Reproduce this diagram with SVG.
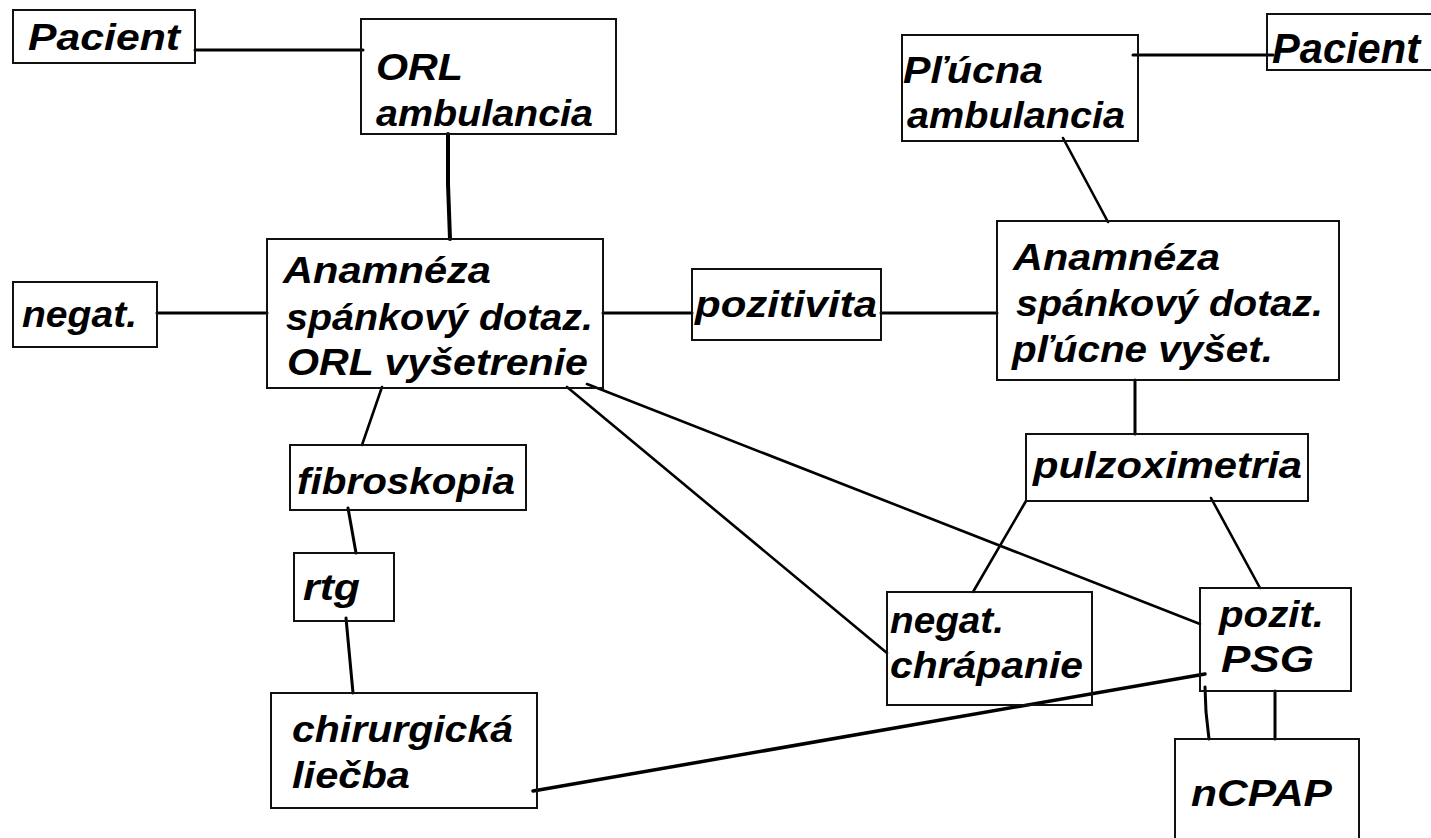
<svg xmlns="http://www.w3.org/2000/svg" width="1431" height="838" viewBox="0 0 1431 838">
<style>
.box{fill:none;stroke:#111;stroke-width:2}
.t{font-family:"Liberation Sans",Arial,sans-serif;font-weight:bold;font-style:italic;font-size:36px;fill:#000}
.c{stroke:#000;stroke-width:3;fill:none;stroke-linecap:round}
.d{stroke:#000;stroke-width:2.6;fill:none;stroke-linecap:round}
</style>
<rect width="1431" height="838" fill="#fff"/>
<g id="connectors">
<line class="c" x1="195" y1="50" x2="363" y2="50"/>
<polyline class="c" style="stroke-width:4" points="448,134 448,184 450,239"/>
<line class="c" x1="1133" y1="55" x2="1273" y2="55"/>
<line class="d" x1="1063" y1="138" x2="1108" y2="222"/>
<line class="c" x1="157" y1="313" x2="267" y2="313"/>
<line class="c" x1="603" y1="313" x2="692" y2="313"/>
<line class="c" x1="881" y1="313" x2="997" y2="313"/>
<line class="c" x1="1135" y1="380" x2="1135" y2="434"/>
<line class="d" x1="1026" y1="501" x2="973" y2="592"/>
<line class="d" x1="1211" y1="498" x2="1260" y2="588"/>
<polyline class="c" points="1205,687 1206,712 1209,739"/>
<line class="c" x1="1275" y1="691" x2="1275" y2="739"/>
<line class="d" x1="382" y1="387" x2="362" y2="445"/>
<line class="c" x1="348" y1="508" x2="356" y2="553"/>
<line class="c" x1="346" y1="618" x2="353" y2="693"/>
<line class="c" style="stroke-width:3.5" x1="533" y1="791" x2="1205" y2="674"/>
<line class="d" x1="567" y1="387" x2="887" y2="653"/>
<line class="d" x1="587" y1="384" x2="1200" y2="624"/>
</g>
<g id="pacient-left">
<rect class="box" x="13" y="10" width="182" height="53"/>
<text class="t" x="28" y="50" textLength="152" lengthAdjust="spacingAndGlyphs">Pacient</text>
</g>
<g id="orl-ambulancia">
<rect class="box" x="361" y="19" width="255" height="115"/>
<text class="t" x="376" y="80" textLength="87" lengthAdjust="spacingAndGlyphs">ORL</text>
<text class="t" x="376" y="126" textLength="217" lengthAdjust="spacingAndGlyphs">ambulancia</text>
</g>
<g id="plucna-ambulancia">
<rect class="box" x="902" y="35" width="236" height="106"/>
<text class="t" x="903" y="83" textLength="140" lengthAdjust="spacingAndGlyphs">Pľúcna</text>
<text class="t" x="907" y="128" textLength="218" lengthAdjust="spacingAndGlyphs">ambulancia</text>
</g>
<g id="pacient-right">
<rect class="box" x="1267" y="14" width="175" height="56"/>
<text class="t" style="font-size:42px" x="1272" y="63" textLength="148" lengthAdjust="spacingAndGlyphs">Pacient</text>
</g>
<g id="negat-left">
<rect class="box" x="13" y="282" width="144" height="65"/>
<text class="t" x="22" y="327" textLength="115" lengthAdjust="spacingAndGlyphs">negat.</text>
</g>
<g id="anamneza-orl">
<rect class="box" x="267" y="239" width="336" height="149"/>
<text class="t" x="283" y="283" textLength="208" lengthAdjust="spacingAndGlyphs">Anamnéza</text>
<text class="t" x="286" y="330" textLength="307" lengthAdjust="spacingAndGlyphs">spánkový dotaz.</text>
<text class="t" x="287" y="375" textLength="301" lengthAdjust="spacingAndGlyphs">ORL vyšetrenie</text>
</g>
<g id="pozitivita">
<rect class="box" x="692" y="269" width="189" height="71"/>
<text class="t" x="695" y="317" textLength="182" lengthAdjust="spacingAndGlyphs">pozitivita</text>
</g>
<g id="anamneza-pluc">
<rect class="box" x="997" y="221" width="342" height="159"/>
<text class="t" x="1013" y="270" textLength="207" lengthAdjust="spacingAndGlyphs">Anamnéza</text>
<text class="t" x="1016" y="316" textLength="307" lengthAdjust="spacingAndGlyphs">spánkový dotaz.</text>
<text class="t" x="1012" y="362" textLength="261" lengthAdjust="spacingAndGlyphs">pľúcne vyšet.</text>
</g>
<g id="pulzoximetria">
<rect class="box" x="1026" y="434" width="282" height="67"/>
<text class="t" x="1033" y="478" textLength="269" lengthAdjust="spacingAndGlyphs">pulzoximetria</text>
</g>
<g id="fibroskopia">
<rect class="box" x="290" y="445" width="236" height="65"/>
<text class="t" x="297" y="494" textLength="218" lengthAdjust="spacingAndGlyphs">fibroskopia</text>
</g>
<g id="rtg">
<rect class="box" x="294" y="553" width="100" height="68"/>
<text class="t" x="303" y="600" textLength="57" lengthAdjust="spacingAndGlyphs">rtg</text>
</g>
<g id="chirurgicka-liecba">
<rect class="box" x="271" y="693" width="266" height="115"/>
<text class="t" x="292" y="742" textLength="221" lengthAdjust="spacingAndGlyphs">chirurgická</text>
<text class="t" x="292" y="788" textLength="118" lengthAdjust="spacingAndGlyphs">liečba</text>
</g>
<g id="negat-chrapanie">
<rect class="box" x="887" y="592" width="205" height="113"/>
<text class="t" x="890" y="633" textLength="114" lengthAdjust="spacingAndGlyphs">negat.</text>
<text class="t" x="890" y="678" textLength="193" lengthAdjust="spacingAndGlyphs">chrápanie</text>
</g>
<g id="pozit-psg">
<rect class="box" x="1200" y="588" width="151" height="103"/>
<text class="t" x="1219" y="627" textLength="105" lengthAdjust="spacingAndGlyphs">pozit.</text>
<text class="t" x="1221" y="672" textLength="93" lengthAdjust="spacingAndGlyphs">PSG</text>
</g>
<g id="ncpap">
<rect class="box" x="1175" y="739" width="184" height="110"/>
<text class="t" x="1191" y="806" textLength="141" lengthAdjust="spacingAndGlyphs">nCPAP</text>
</g>
</svg>
